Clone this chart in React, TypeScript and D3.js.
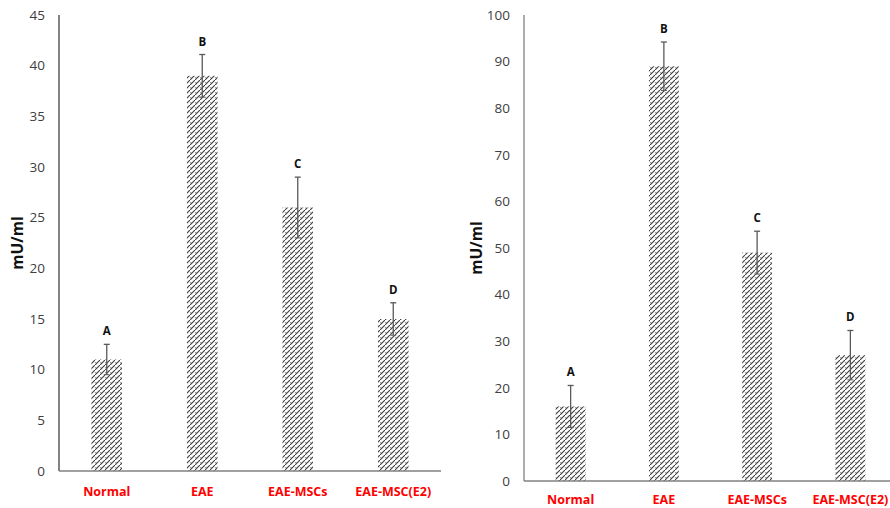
import React from "react";
import * as d3 from "d3";

const categories = ["Normal", "EAE", "EAE-MSCs", "EAE-MSC(E2)"];
const letters = ["A", "B", "C", "D"];
const leftValues = [11, 39, 26, 15];
const leftErrors = [1.5, 2.1, 3.0, 1.6];
const rightValues = [16, 89, 49, 27];
const rightErrors = [4.5, 5.2, 4.6, 5.3];
const leftTicks = [0, 5, 10, 15, 20, 25, 30, 35, 40, 45];
const rightTicks = [0, 10, 20, 30, 40, 50, 60, 70, 80, 90, 100];

const FONT = "Open Sans, Liberation Sans, sans-serif";

type PanelProps = {
  values: number[];
  errors: number[];
  ticks: number[];
  max: number;
  x0: number;
  x1: number;
  yTop: number;
  yBottom: number;
  titleX: number;
  labelY: number;
  axisColor: string;
};

function Panel({ values, errors, ticks, max, x0, x1, yTop, yBottom, titleX, labelY, axisColor }: PanelProps) {
  const x = d3.scaleBand<string>().domain(categories).range([x0, x1]).padding(0);
  const y = d3.scaleLinear().domain([0, max]).range([yBottom, yTop]);
  const bw = x.bandwidth() * 0.32;
  const midY = (yTop + yBottom) / 2;
  return (
    <g>
      {ticks.map((t) => (
        <text key={t} x={x0 - 14} y={y(t)} dy="0.35em" textAnchor="end" fontSize={13.5} fill="#404040" fontFamily={FONT}>
          {t}
        </text>
      ))}
      {categories.map((c, i) => {
        const cx = (x(c) as number) + x.bandwidth() / 2;
        const v = values[i];
        const e = errors[i];
        return (
          <g key={c}>
            <rect x={cx - bw / 2} y={y(v)} width={bw} height={y(0) - y(v)} fill="url(#hatch)" />
            <line x1={cx} x2={cx} y1={y(v + e)} y2={y(v - e)} stroke="#595959" strokeWidth={1.3} />
            <line x1={cx - 3} x2={cx + 3} y1={y(v + e)} y2={y(v + e)} stroke="#595959" strokeWidth={1.3} />
            <line x1={cx - 3} x2={cx + 3} y1={y(v - e)} y2={y(v - e)} stroke="#595959" strokeWidth={1} />
            <text x={cx} y={y(v + e) - 9} textAnchor="middle" fontSize={11.5} fontWeight="bold" fill="#111" fontFamily={FONT}>
              {letters[i]}
            </text>
            <text x={cx} y={labelY} dy="0.35em" textAnchor="middle" fontSize={12.5} fontWeight="bold" fill="#ff0000" fontFamily={FONT}>
              {c}
            </text>
          </g>
        );
      })}
      <line x1={x0} x2={x0} y1={yTop} y2={yBottom} stroke={axisColor} strokeWidth={1.3} />
      <line x1={x0} x2={x1} y1={yBottom} y2={yBottom} stroke="#808080" strokeWidth={1.3} />
      <text
        transform={`translate(${titleX},${midY}) rotate(-90)`}
        textAnchor="middle"
        dy="0.35em"
        fontSize={15.5}
        fontWeight="bold"
        fill="#111"
        fontFamily={FONT}
      >
        mU/ml
      </text>
    </g>
  );
}

export default function App() {
  return (
    <svg width={890} height={508} style={{ position: "absolute", left: 0, top: 0, background: "#fff" }}>
      <defs>
        <pattern id="hatch" width={5} height={5} patternUnits="userSpaceOnUse">
          <rect width={5} height={5} fill="#fff" />
          <path d="M0,5 L5,0" stroke="#3a3a3a" strokeWidth={1.1} />
          <path d="M0,2.5 L1.5,2.5" stroke="#888" strokeWidth={0.8} />
        </pattern>
      </defs>
      <Panel
        values={leftValues}
        errors={leftErrors}
        ticks={leftTicks}
        max={45}
        x0={59}
        x1={441}
        yTop={15}
        yBottom={471}
        titleX={18}
        labelY={492}
        axisColor="#404040"
      />
      <Panel
        values={rightValues}
        errors={rightErrors}
        ticks={rightTicks}
        max={100}
        x0={524}
        x1={897}
        yTop={15}
        yBottom={481}
        titleX={477}
        labelY={500}
        axisColor="#808080"
      />
    </svg>
  );
}
